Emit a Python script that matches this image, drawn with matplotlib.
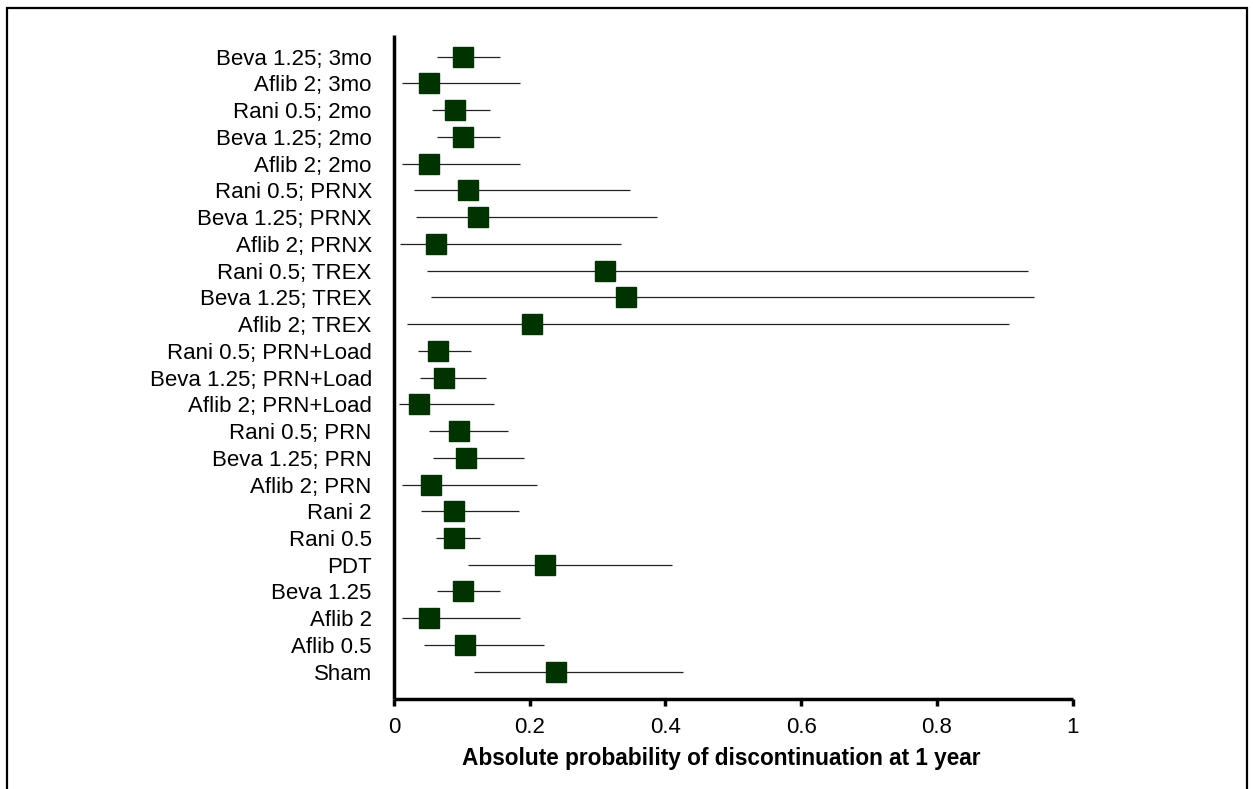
import numpy as np
import matplotlib
matplotlib.use("Agg")
from matplotlib import pyplot as plt
from matplotlib.lines import Line2D

plt.rcParams["font.family"] = ["Liberation Sans", "DejaVu Sans"]

# top row first, as listed on the axis
labels = [
    "Beva 1.25; 3mo", "Aflib 2; 3mo", "Rani 0.5; 2mo", "Beva 1.25; 2mo",
    "Aflib 2; 2mo", "Rani 0.5; PRNX", "Beva 1.25; PRNX", "Aflib 2; PRNX",
    "Rani 0.5; TREX", "Beva 1.25; TREX", "Aflib 2; TREX",
    "Rani 0.5; PRN+Load", "Beva 1.25; PRN+Load", "Aflib 2; PRN+Load",
    "Rani 0.5; PRN", "Beva 1.25; PRN", "Aflib 2; PRN", "Rani 2", "Rani 0.5",
    "PDT", "Beva 1.25", "Aflib 2", "Aflib 0.5", "Sham",
]
estimate = [0.101, 0.051, 0.090, 0.101, 0.051, 0.109, 0.123, 0.062,
            0.311, 0.342, 0.204, 0.065, 0.074, 0.037, 0.095, 0.106,
            0.055, 0.089, 0.089, 0.223, 0.101, 0.051, 0.104, 0.238]
lower = [0.064, 0.012, 0.056, 0.064, 0.012, 0.029, 0.032, 0.009,
         0.049, 0.055, 0.019, 0.036, 0.038, 0.008, 0.051, 0.057,
         0.012, 0.040, 0.062, 0.109, 0.064, 0.012, 0.044, 0.118]
upper = [0.156, 0.185, 0.141, 0.156, 0.185, 0.348, 0.388, 0.335,
         0.934, 0.943, 0.907, 0.114, 0.136, 0.147, 0.168, 0.192,
         0.210, 0.184, 0.126, 0.409, 0.156, 0.185, 0.221, 0.426]

ticks = [0, 0.2, 0.4, 0.6, 0.8, 1]
tick_labels = ["0", "0.2", "0.4", "0.6", "0.8", "1"]

FS = 16

fig = plt.figure(figsize=(12.53, 7.89), dpi=100)
ax = fig.add_axes([0.3145, 0.1145, 0.5415, 0.841])

n = len(labels)
y = np.arange(n)[::-1]

ax.hlines(y, lower, upper, color="#222222", linewidth=0.9, zorder=2)
ax.plot(estimate, y, linestyle="none", marker="s", markersize=13.7,
        color="#003300", markeredgecolor="#003300", zorder=3)

ax.set_xlim(0, 1)
ax.set_ylim(-1.01, n - 1 + 0.81)
ax.set_xticks(ticks)
ax.set_xticklabels(tick_labels, fontsize=FS)
ax.set_yticks(y)
ax.set_yticklabels(labels, fontsize=FS)
ax.tick_params(axis="y", length=0, pad=16)
ax.tick_params(axis="x", length=5, width=2.5, direction="out", pad=8)
ax.set_xlabel("Absolute probability of discontinuation at 1 year",
              fontsize=16.3, fontweight="bold", labelpad=7)
ax.xaxis.label.set_x(0.482)

for side in ("top", "right"):
    ax.spines[side].set_visible(False)
for side in ("left", "bottom"):
    ax.spines[side].set_linewidth(2.5)
    ax.spines[side].set_capstyle("butt")

# outer frame, open at the bottom edge
W, H = 1253, 789
fx = [6.5 / W, 6.5 / W, 1246.5 / W, 1246.5 / W]
fy = [-0.05, 1 - 7.5 / H, 1 - 7.5 / H, -0.05]
fig.add_artist(Line2D(fx, fy, transform=fig.transFigure, color="black",
                      linewidth=1.6, solid_joinstyle="miter"))

fig.savefig("out.png", dpi=100)
